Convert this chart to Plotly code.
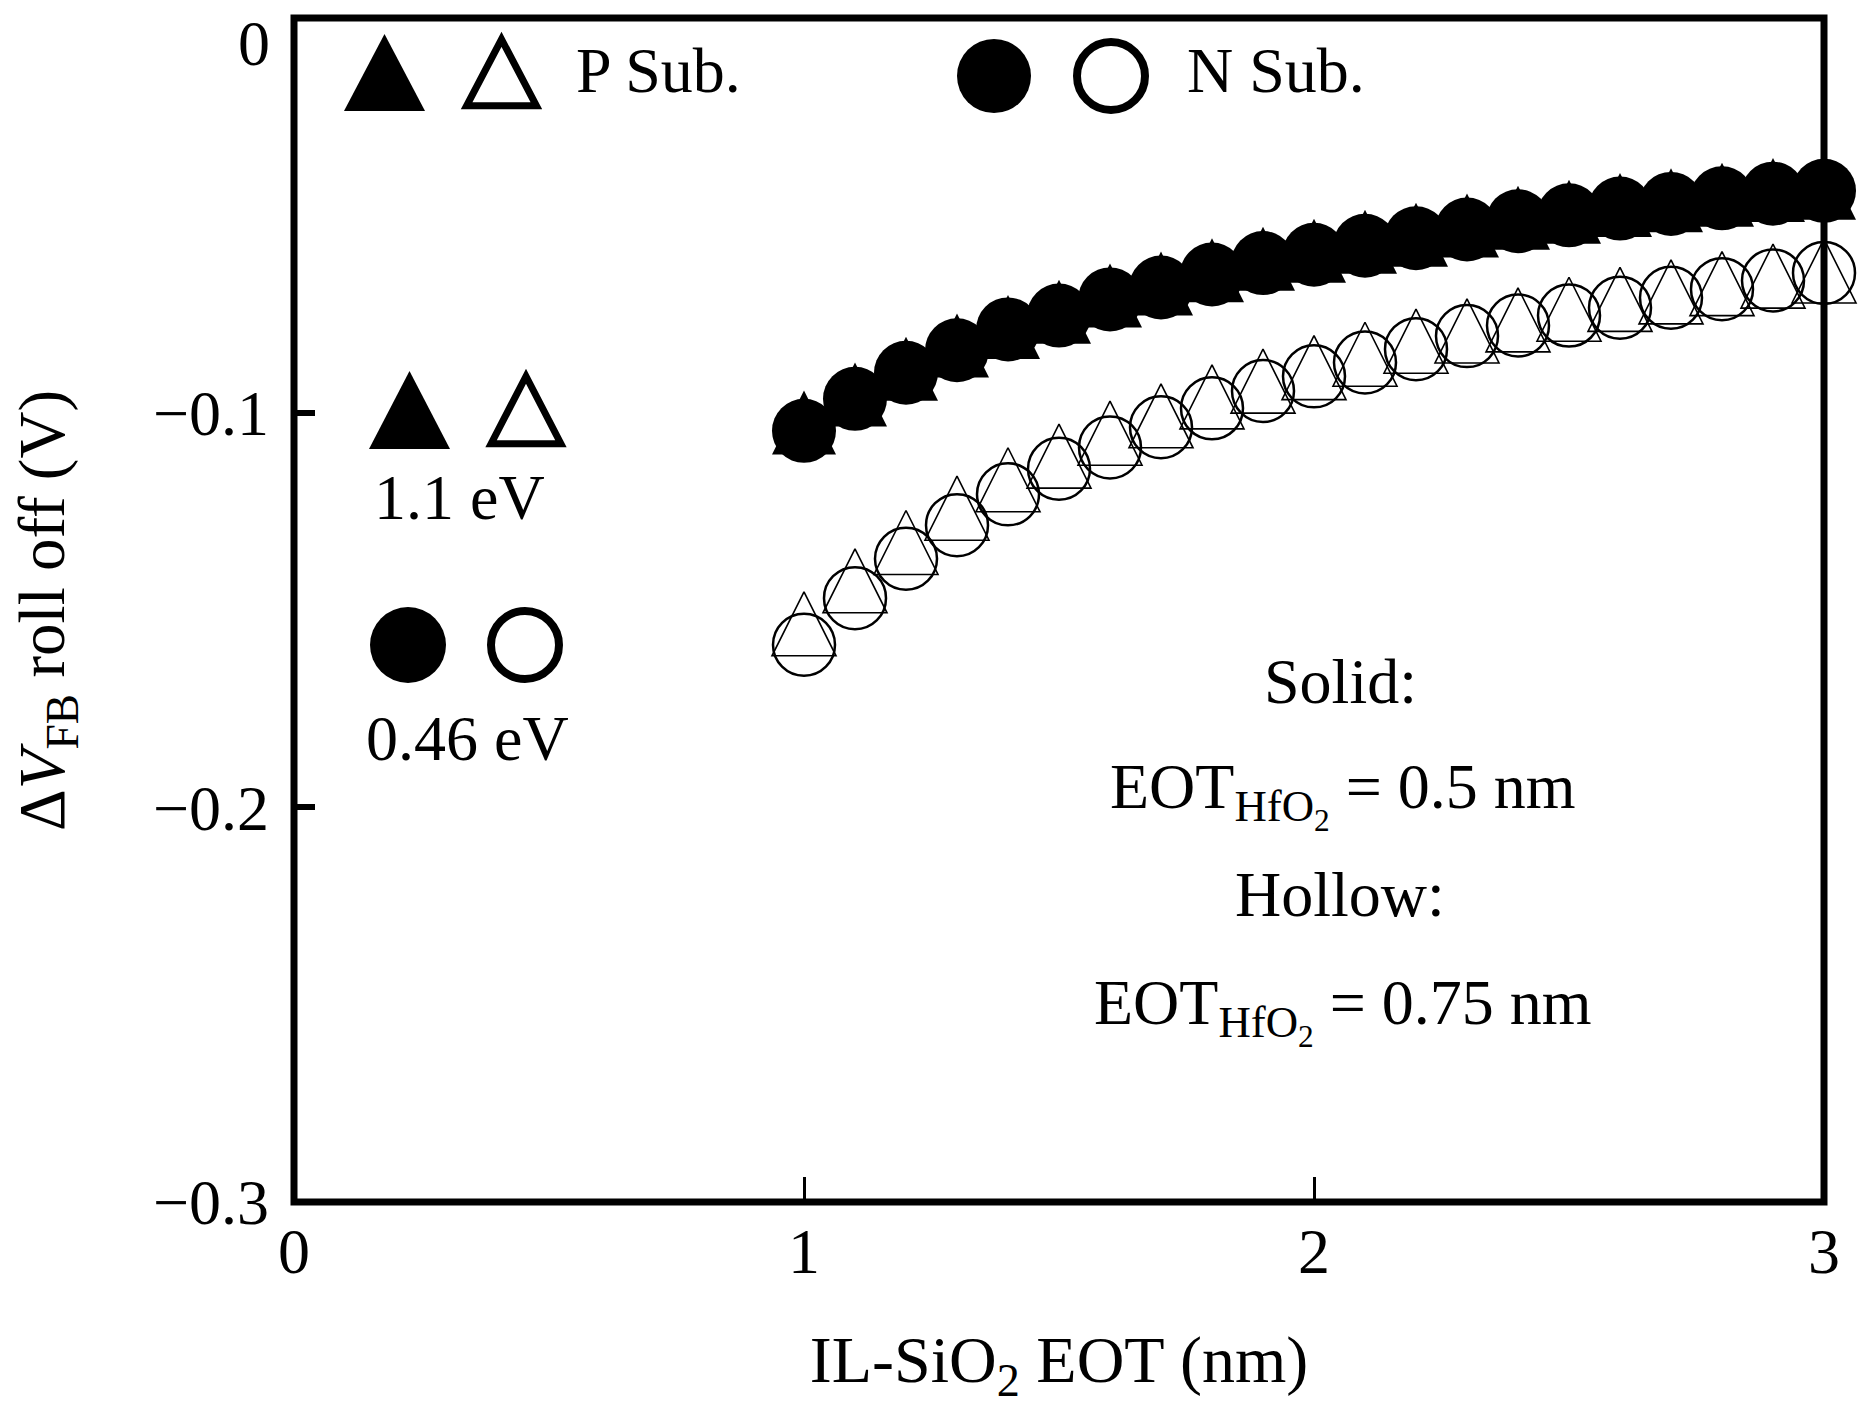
import plotly.graph_objects as go

# ---------------- data ----------------
il_eot = [1.0, 1.1, 1.2, 1.3, 1.4, 1.5, 1.6, 1.7, 1.8, 1.9, 2.0,
          2.1, 2.2, 2.3, 2.4, 2.5, 2.6, 2.7, 2.8, 2.9, 3.0]

# Solid symbols: EOT_HfO2 = 0.5 nm
p_sub_05 = [-0.1025, -0.0954, -0.0889, -0.0830, -0.0783, -0.0744, -0.0703,
            -0.0673, -0.0639, -0.0610, -0.0590, -0.0567, -0.0549, -0.0526,
            -0.0506, -0.0491, -0.0474, -0.0462, -0.0448, -0.0436, -0.0430]
n_sub_05 = [-0.1046, -0.0965, -0.0899, -0.0842, -0.0789, -0.0754, -0.0713,
            -0.0683, -0.0650, -0.0621, -0.0600, -0.0577, -0.0558, -0.0536,
            -0.0515, -0.0500, -0.0483, -0.0471, -0.0457, -0.0445, -0.0438]

# Hollow symbols: EOT_HfO2 = 0.75 nm
p_sub_075 = [-0.1535, -0.1426, -0.1329, -0.1242, -0.1170, -0.1110, -0.1052,
             -0.1008, -0.0960, -0.0920, -0.0886, -0.0852, -0.0819, -0.0793,
             -0.0765, -0.0738, -0.0713, -0.0694, -0.0673, -0.0654, -0.0641]
n_sub_075 = [-0.1588, -0.1470, -0.1370, -0.1285, -0.1207, -0.1142, -0.1088,
             -0.1037, -0.0989, -0.0945, -0.0908, -0.0873, -0.0839, -0.0806,
             -0.0779, -0.0754, -0.0734, -0.0709, -0.0687, -0.0665, -0.0646]

x_tick_vals = [0, 1, 2, 3]
y_tick_vals = [0, -0.1, -0.2, -0.3]
y_tick_text = ["", "−0.1", "−0.2", "−0.3"]   # the top "0" is placed as a note below
x_title = "IL-SiO<sub>2</sub> EOT (nm)"
y_title = "Δ<i>V</i><sub>FB</sub> roll off (V)"

# ---------------- layout geometry ----------------
W, H = 1869, 1405
OFF = 8                       # page body margin of the HTML page
PL, PT, PW, PH = 294, 18, 1530, 1184   # plot area as it should appear on screen
ML, MT = PL - OFF, PT - OFF
MR, MB = W - ML - PW, H - MT - PH
FONT = "Liberation Serif"
FS = 64


def px_x(X):
    return (X - PL) / PW


def px_y(Y):
    return (PT + PH - Y) / PH


fig = go.Figure()

MS = 64  # marker size in px
fig.add_trace(go.Scatter(
    x=il_eot, y=n_sub_05, mode="markers", name="N Sub., 0.5 nm",
    marker=dict(symbol="circle", size=MS, color="black", line=dict(width=0)),
    cliponaxis=False))
fig.add_trace(go.Scatter(
    x=il_eot, y=p_sub_05, mode="markers", name="P Sub., 0.5 nm",
    marker=dict(symbol="arrow-down", size=MS, color="black", angle=180,
                standoff=MS / 2, line=dict(width=0)),
    cliponaxis=False))
fig.add_trace(go.Scatter(
    x=il_eot, y=n_sub_075, mode="markers", name="N Sub., 0.75 nm",
    marker=dict(symbol="circle-open", size=MS - 2, color="black",
                line=dict(width=2.5, color="black")),
    cliponaxis=False))
fig.add_trace(go.Scatter(
    x=il_eot, y=p_sub_075, mode="markers", name="P Sub., 0.75 nm",
    marker=dict(symbol="arrow-down-open", size=MS, color="black", angle=180,
                standoff=MS / 2, line=dict(width=1.6, color="black")),
    cliponaxis=False))

# ---------------- legend-like symbols drawn in the plot ----------------
shapes = []


def tri(cx, cy, w, h, filled):
    if filled:
        path = f"M{-w/2},{-h/2} L{w/2},{-h/2} L0,{h/2} Z"
        style = dict(fillcolor="black", line=dict(width=0))
    else:
        lw = 7
        iw, ih = w - lw * 1.6, h - lw * 1.5
        path = f"M{-iw/2},{-ih/2} L{iw/2},{-ih/2} L0,{ih/2} Z"
        style = dict(fillcolor="rgba(0,0,0,0)", line=dict(width=lw, color="black"))
    return dict(type="path", xref="paper", yref="paper",
                xsizemode="pixel", ysizemode="pixel",
                xanchor=px_x(cx), yanchor=px_y(cy), path=path, **style)


def circ(cx, cy, d, filled):
    if filled:
        r = d / 2
        style = dict(fillcolor="black", line=dict(width=0))
    else:
        lw = 8
        r = (d - lw) / 2
        style = dict(fillcolor="rgba(0,0,0,0)", line=dict(width=lw, color="black"))
    return dict(type="circle", xref="paper", yref="paper",
                xsizemode="pixel", ysizemode="pixel",
                xanchor=px_x(cx), yanchor=px_y(cy),
                x0=-r, x1=r, y0=-r, y1=r, **style)


shapes += [
    tri(384.5, 72.5, 81, 77, True), tri(501.5, 72.5, 81, 77, False),
    circ(994, 76, 74, True), circ(1111, 76, 76, False),
    tri(409.5, 410, 81, 78, True), tri(526, 410, 81, 78, False),
    circ(408, 645, 76, True), circ(525, 645, 76, False),
]
# frame
shapes.append(dict(type="rect", xref="paper", yref="paper", x0=0, x1=1, y0=0, y1=1,
                   line=dict(color="black", width=7), layer="above"))

annotations = []


def note(text, X, Y, xanchor="left", size=FS, angle=0):
    annotations.append(dict(text=text, x=px_x(X), y=px_y(Y), xref="paper", yref="paper",
                            xanchor=xanchor, yanchor="middle", showarrow=False,
                            textangle=angle,
                            font=dict(family=FONT, size=size, color="black")))


note("0", 272, 44, "right")
note(y_title, 47, 610, "center", size=65, angle=-90)
note("P Sub.", 574, 71)
note("N Sub.", 1185, 70)
note("1.1 eV", 372, 497)
note("0.46 eV", 364, 738)
note("Solid:", 1340, 682, "center")
note("EOT<sub>HfO<sub>2</sub></sub> = 0.5 nm", 1343, 794, "center")
note("Hollow:", 1340, 894, "center")
note("EOT<sub>HfO<sub>2</sub></sub> = 0.75 nm", 1343, 1010, "center")

fig.update_layout(
    width=W, height=H, autosize=False,
    margin=dict(l=ML, r=MR, t=MT, b=MB, pad=0, autoexpand=False),
    paper_bgcolor="white", plot_bgcolor="white",
    showlegend=False,
    font=dict(family=FONT, size=FS, color="black"),
    shapes=shapes, annotations=annotations,
    xaxis=dict(range=[0, 3], tickvals=x_tick_vals, ticks="inside", ticklen=25,
               tickwidth=3, tickcolor="black", showline=False, showgrid=False,
               zeroline=False, ticklabelstandoff=6, ticklabeloverflow="allow",
               automargin=False,
               tickfont=dict(family=FONT, size=FS),
               title=dict(text=x_title, standoff=49,
                          font=dict(family=FONT, size=66))),
    yaxis=dict(range=[-0.3, 0], tickvals=y_tick_vals, ticktext=y_tick_text,
               ticks="inside", ticklen=21,
               tickwidth=6, tickcolor="black", showline=False, showgrid=False,
               zeroline=False, ticklabelstandoff=24, ticklabeloverflow="allow",
               automargin=False,
               tickfont=dict(family=FONT, size=FS)),
)

fig.write_html("out.html")
